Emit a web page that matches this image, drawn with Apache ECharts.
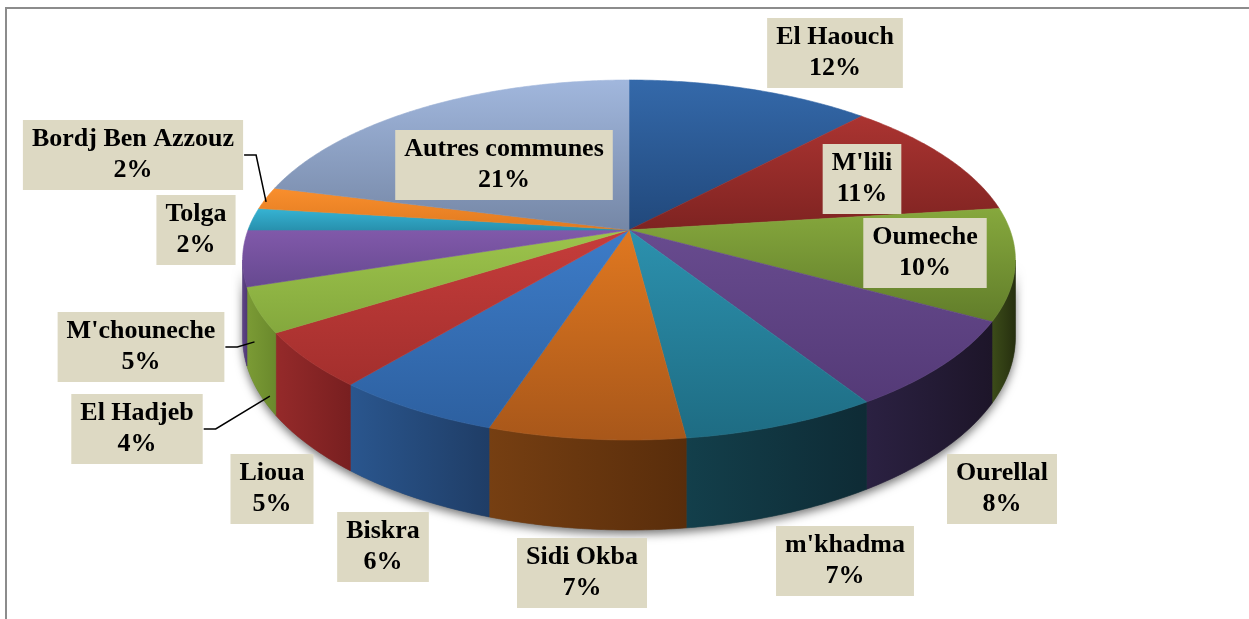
<!DOCTYPE html>
<html>
<head>
<meta charset="utf-8">
<script src="https://cdn.jsdelivr.net/npm/echarts@6/dist/echarts.min.js"></script>
<style>
html,body{margin:0;padding:0;background:#fff;overflow:hidden;}
#frame{position:absolute;left:5px;top:7px;width:1300px;height:700px;border-left:2px solid #8c8c8c;border-top:2px solid #8c8c8c;}
#main{position:absolute;left:0;top:0;width:1249px;height:619px;}
</style>
</head>
<body>
<div id="frame"></div>
<div id="main"></div>
<script>
// data
const communes = ['El Haouch', "M'lili", 'Oumeche', 'Ourellal', "m'khadma", 'Sidi Okba', 'Biskra',
  'Lioua', 'El Hadjeb', "M'chouneche", 'Tolga', 'Bordj Ben Azzouz', 'Autres communes'];
const parts = [12, 11, 10, 8, 7, 7, 6, 5, 4, 5, 2, 2, 21];

// colours: top face (light -> dark), side wall (left -> right)
const topColors = [
  ['#3469aa', '#21487b'], ['#ab3431', '#7e2321'], ['#86a83d', '#617d2a'], ['#684b8f', '#543a77'],
  ['#2c91ae', '#1e6c83'], ['#e07820', '#a8571a'], ['#3d7cc8', '#2d60a0'], ['#c63d3b', '#a32f2d'],
  ['#9dc44c', '#84a83d'], ['#8159aa', '#664990'], ['#36b4d4', '#2890ad'], ['#f98f2d', '#e07a20'],
  ['#a1b7dd', '#7587a6']
];
const wallColors = [
  ['#25508a', '#1c3d6a'], ['#8a2a28', '#6a1f1e'], ['#3c4c19', '#262f0f'], ['#2b2142', '#1d1529'],
  ['#133f4b', '#0e2b35'], ['#763f12', '#592d0b'], ['#2a568e', '#1f3d66'], ['#952a2a', '#781f20'],
  ['#7b9b35', '#6a892c'], ['#604589', '#4e3873'], ['#2a8fa9', '#207389'], ['#d0731f', '#b0601a'],
  ['#7588ab', '#5f7090']
];

// label layout (box centres) and leader lines [slice, radius factor, depth fraction]
const labelPos = [[835, 53], [862, 179], [925, 253], [1002, 489], [845, 561], [582, 573], [383, 547],
  [272, 489], [137, 429], [141, 347], [196, 230], [133, 155], [504, 165]];
const leaders = [[11, 1.0, 0.05], [9, 0.97, 1.1], [8, 0.97, 1.1]];

// pie geometry
const CX = 629, CY = 230, RX = 381, RY = 175, TILT = 1 / 6, DEPTH = 75;
const SIL_R = Math.acos(-TILT), SIL_L = 2 * Math.PI - SIL_R;

const total = parts.reduce((a, b) => a + b, 0);
const angles = [];
let acc = 0;
parts.forEach(v => {
  const a0 = acc / total * 2 * Math.PI;
  acc += v;
  angles.push([a0, acc / total * 2 * Math.PI]);
});

function proj(theta, rf) {
  rf = rf || 1;
  const u = Math.sin(theta) * rf, v = -Math.cos(theta) * rf, d = 1 - TILT * v;
  return [CX + RX * u / d, CY + RY * v / d, DEPTH / d];
}

function arc(s, e) {
  const pts = [];
  const n = Math.max(2, Math.ceil((e - s) / 0.01));
  for (let k = 0; k <= n; k++) pts.push(proj(s + (e - s) * k / n));
  return pts;
}

function grad(c, horiz) {
  return new echarts.graphic.LinearGradient(0, 0, horiz ? 1 : 0, horiz ? 0 : 1,
    [{offset: 0, color: c[0]}, {offset: 1, color: c[1]}]);
}

const font = 'bold 26px "Liberation Serif", "Times New Roman", serif';
const ctx = document.createElement('canvas').getContext('2d');
ctx.font = font;

function shadowItem() {
  const a = arc(SIL_R, SIL_L);
  const pts = a.map(p => [p[0], p[1]]).concat(a.slice().reverse().map(p => [p[0], p[1] + p[2]]));
  return {
    type: 'polygon', shape: {points: pts},
    style: {fill: '#666', shadowBlur: 10, shadowColor: 'rgba(0,0,0,0.55)', shadowOffsetY: 4}
  };
}

function wallItem(params) {
  const i = params.dataIndex;
  const s = Math.max(angles[i][0], SIL_R), e = Math.min(angles[i][1], SIL_L);
  if (e <= s) return null;
  const a = arc(s, e);
  const pts = a.map(p => [p[0], p[1]]).concat(a.slice().reverse().map(p => [p[0], p[1] + p[2]]));
  const g = grad(wallColors[i], true);
  return {type: 'polygon', shape: {points: pts}, style: {fill: g, stroke: g, lineWidth: 0.6}};
}

function topItem(params) {
  const i = params.dataIndex;
  const a = arc(angles[i][0], angles[i][1]);
  const pts = [[CX, CY]].concat(a.map(p => [p[0], p[1]]));
  const g = grad(topColors[i], false);
  return {type: 'polygon', shape: {points: pts}, style: {fill: g, stroke: g, lineWidth: 0.6}};
}

function labelItem(params) {
  const i = params.dataIndex;
  const text = communes[i] + '\n' + parts[i] + '%';
  const [x, y] = labelPos[i];
  const children = [{
    type: 'text',
    style: {
      text: text, x: x, y: y, font: font, fill: '#000', align: 'center', verticalAlign: 'middle',
      lineHeight: 31, backgroundColor: '#ddd9c3', padding: [4, 9]
    }
  }];
  const ld = leaders.find(l => l[0] === i);
  if (ld) {
    const w = Math.max(...text.split('\n').map(t => ctx.measureText(t).width));
    const x0 = x + w / 2 + 10;
    const mid = (angles[i][0] + angles[i][1]) / 2;
    const p = proj(mid, ld[1]);
    children.push({
      type: 'polyline',
      shape: {points: [[x0, y], [x0 + 12, y], [p[0], p[1] + p[2] * ld[2]]]},
      style: {stroke: '#000', lineWidth: 1.5, fill: null}
    });
  }
  return {type: 'group', children: children};
}

const chart = echarts.init(document.getElementById('main'));
const seriesData = parts.map((v, i) => [i, v]);
chart.setOption({
  animation: false,
  series: [
    {type: 'custom', coordinateSystem: 'none', z: 1, data: [[0]], renderItem: shadowItem, silent: true},
    {type: 'custom', coordinateSystem: 'none', z: 2, data: seriesData, renderItem: wallItem},
    {type: 'custom', coordinateSystem: 'none', z: 3, data: seriesData, renderItem: topItem},
    {type: 'custom', coordinateSystem: 'none', z: 4, data: seriesData, renderItem: labelItem}
  ]
});
window.addEventListener('resize', () => chart.resize());
</script>
</body>
</html>
